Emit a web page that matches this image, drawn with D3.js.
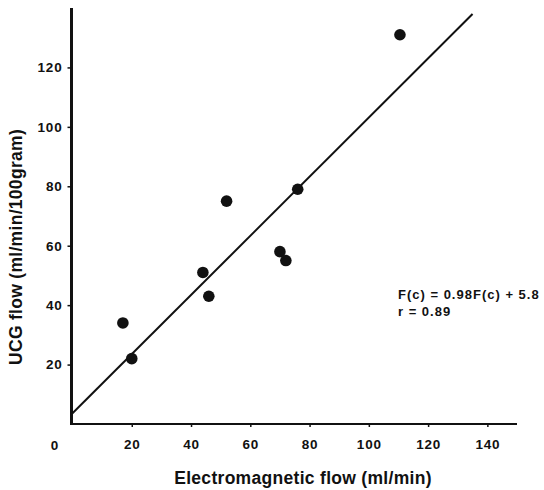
<!DOCTYPE html>
<html>
<head>
<meta charset="utf-8">
<script src="https://cdn.jsdelivr.net/npm/d3@7"></script>
<style>
  body { margin: 0; background: #fff; }
  text { font-family: "Liberation Sans", Arial, sans-serif; font-weight: bold; fill: #111; }
</style>
</head>
<body>
<svg id="chart" width="544" height="490"></svg>
<script>
// punkter: elektromagnetiskt flöde vs UCG flöde
const emFlow  = [17, 20, 44, 46, 52, 70, 72, 76, 110.5];
const ucgFlow = [34, 22, 51, 43, 75, 58, 55, 79, 131];

// regressionslinjen som den är ritad
const lineX = [0, 135];
const lineY = [3.6, 138];

const xTicks = [20, 40, 60, 80, 100, 120, 140];
const yTicks = [20, 40, 60, 80, 100, 120];

const svg = d3.select("#chart");

const x = d3.scaleLinear().domain([0, 150]).range([72.5, 517]);
const y = d3.scaleLinear().domain([0, 140]).range([424, 8]);

// Y-axel
const yAxis = svg.append("g")
  .attr("transform", `translate(${x(0) - 1}, 0)`)
  .call(d3.axisLeft(y).tickValues(yTicks).tickSize(4).tickPadding(5));
yAxis.select(".domain").attr("stroke", "#111").attr("stroke-width", 3)
  .attr("d", `M0,${y(140)}V${y(0) + 1}`);
yAxis.selectAll(".tick line").attr("stroke", "#111").attr("stroke-width", 1.5);
yAxis.selectAll(".tick text").style("font-size", "13.5px")
  .style("letter-spacing", "0.8px").attr("fill", "#111");

// X-axel
const xAxis = svg.append("g")
  .attr("transform", `translate(0, ${y(0)})`)
  .call(d3.axisBottom(x).tickValues(xTicks).tickSize(3).tickPadding(12));
xAxis.select(".domain").attr("stroke", "#111").attr("stroke-width", 2)
  .attr("d", `M${x(0) - 2},0H${x(150)}`);
xAxis.selectAll(".tick line").attr("stroke", "#111").attr("stroke-width", 1.5);
xAxis.selectAll(".tick text").style("font-size", "13.5px")
  .style("letter-spacing", "0.8px").attr("fill", "#111");

// "0" i hörnet
svg.append("text")
  .attr("x", x(0) - 18)
  .attr("y", y(0) + 26)
  .attr("text-anchor", "middle")
  .style("font-size", "13.5px")
  .text("0");

// Linje
svg.append("line")
  .attr("x1", x(lineX[0])).attr("y1", y(lineY[0]))
  .attr("x2", x(lineX[1])).attr("y2", y(lineY[1]))
  .attr("stroke", "#111").attr("stroke-width", 2);

// Punkter
svg.selectAll(".dot")
  .data(emFlow.map((d, i) => ({ em: d, ucg: ucgFlow[i] })))
  .enter()
  .append("circle")
  .attr("class", "dot")
  .attr("cx", d => x(d.em))
  .attr("cy", d => y(d.ucg))
  .attr("r", 5.8)
  .attr("fill", "#111");

// Ekvation
svg.append("text")
  .attr("x", 398).attr("y", 299)
  .style("font-size", "13px")
  .style("letter-spacing", "1px")
  .text("F(c) = 0.98F(c) + 5.8");
svg.append("text")
  .attr("x", 398).attr("y", 316)
  .style("font-size", "13px")
  .style("letter-spacing", "1px")
  .text("r = 0.89");

// Axeltitlar
svg.append("text")
  .attr("x", 303).attr("y", 484)
  .attr("text-anchor", "middle")
  .style("font-size", "17.5px")
  .style("letter-spacing", "0.3px")
  .text("Electromagnetic flow (ml/min)");

svg.append("text")
  .attr("transform", "translate(22, 247) rotate(-90)")
  .attr("text-anchor", "middle")
  .style("font-size", "17.5px")
  .style("letter-spacing", "0.3px")
  .text("UCG flow (ml/min/100gram)");
</script>
</body>
</html>
